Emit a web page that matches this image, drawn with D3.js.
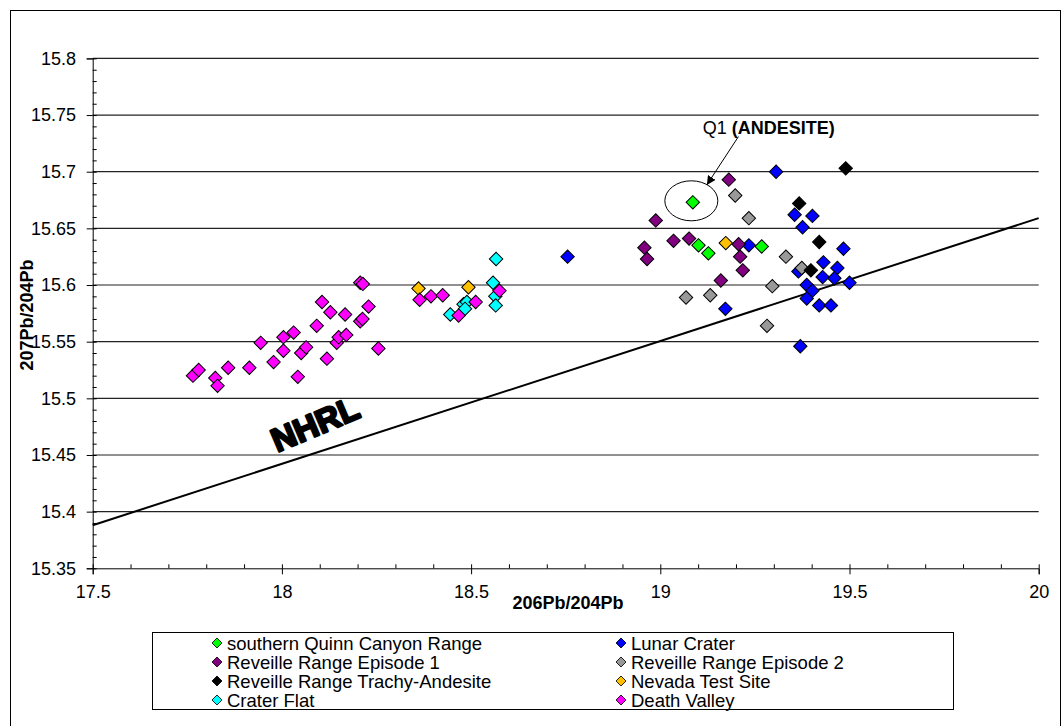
<!DOCTYPE html>
<html>
<head>
<meta charset="utf-8">
<script src="https://cdnjs.cloudflare.com/ajax/libs/d3/7.8.5/d3.min.js"></script>
<style>
  body { margin: 0; background: #fff; }
  text { font-family: "Liberation Sans", Arial, sans-serif; fill: #000; }
</style>
</head>
<body>
<div id="chart"></div>
<script>
// Pb isotope data, [206Pb/204Pb, 207Pb/204Pb]
const quinnCanyon = [[19.086, 15.673], [19.101, 15.635], [19.127, 15.628], [19.268, 15.634]];
const lunarCrater = [
  [18.755, 15.625], [19.234, 15.635], [19.172, 15.579], [19.306, 15.700], [19.355, 15.662],
  [19.402, 15.661], [19.376, 15.651], [19.484, 15.632], [19.431, 15.620], [19.468, 15.615],
  [19.429, 15.607], [19.460, 15.606], [19.500, 15.602], [19.387, 15.600], [19.402, 15.595],
  [19.387, 15.588], [19.420, 15.582], [19.451, 15.582], [19.370, 15.546], [19.365, 15.612]
];
const reveille1 = [
  [19.181, 15.693], [18.988, 15.657], [18.958, 15.633], [18.965, 15.623], [19.035, 15.639],
  [19.076, 15.641], [19.207, 15.636], [19.211, 15.625], [19.218, 15.613], [19.160, 15.604]
];
const reveille2 = [
  [19.198, 15.679], [19.234, 15.659], [19.068, 15.589], [19.132, 15.591],
  [19.296, 15.599], [19.282, 15.564], [19.332, 15.625], [19.374, 15.615]
];
const reveilleTA = [[19.490, 15.703], [19.367, 15.672], [19.420, 15.638], [19.398, 15.613]];
const nevadaTest = [[18.361, 15.597], [18.493, 15.598], [19.173, 15.637]];
const craterFlat = [
  [18.566, 15.623], [18.558, 15.602], [18.445, 15.574], [18.480, 15.583],
  [18.489, 15.585], [18.484, 15.579], [18.564, 15.590], [18.565, 15.582]
];
const deathValley = [
  [17.765, 15.520], [17.780, 15.525], [17.824, 15.518], [17.830, 15.511], [17.858, 15.527],
  [17.914, 15.527], [17.944, 15.549], [17.978, 15.532], [18.004, 15.554], [18.004, 15.542],
  [18.031, 15.558], [18.042, 15.519], [18.051, 15.540], [18.064, 15.545], [18.092, 15.564],
  [18.106, 15.585], [18.119, 15.535], [18.128, 15.576], [18.145, 15.549], [18.150, 15.554],
  [18.167, 15.574], [18.170, 15.556], [18.207, 15.568], [18.213, 15.570], [18.207, 15.602],
  [18.214, 15.601], [18.229, 15.581], [18.255, 15.544], [18.364, 15.587], [18.394, 15.590],
  [18.425, 15.591], [18.467, 15.573], [18.512, 15.585], [18.575, 15.595]
];

const seriesNames = [
  "southern Quinn Canyon Range", "Lunar Crater",
  "Reveille Range Episode 1", "Reveille Range Episode 2",
  "Reveille Range Trachy-Andesite", "Nevada Test Site",
  "Crater Flat", "Death Valley"
];
const seriesData = [quinnCanyon, lunarCrater, reveille1, reveille2, reveilleTA, nevadaTest, craterFlat, deathValley];
const seriesColors = ["#00ff00", "#0000ff", "#800080", "#999999", "#000000", "#ffc000", "#00ffff", "#ff00ff"];

const xTicks = [17.5, 18, 18.5, 19, 19.5, 20];
const xTickLabels = ["17.5", "18", "18.5", "19", "19.5", "20"];
const yTicks = [15.35, 15.4, 15.45, 15.5, 15.55, 15.6, 15.65, 15.7, 15.75, 15.8];
const yTickLabels = ["15.35", "15.4", "15.45", "15.5", "15.55", "15.6", "15.65", "15.7", "15.75", "15.8"];

// Northern Hemisphere Reference Line
const nhrl = [[17.5, 15.388], [20, 15.659]];
// highlighted sample
const q1 = quinnCanyon[0];

const width = 1062, height = 726;
const plotLeft = 92.7, plotRight = 1038.7, plotTop = 58.4, plotBottom = 568.3;

const svg = d3.select("#chart").append("svg")
  .attr("width", width)
  .attr("height", height);

svg.append("rect").attr("width", width).attr("height", height).attr("fill", "#fff");

// outer chart frame
svg.append("rect")
  .attr("x", 10.5).attr("y", 10.5)
  .attr("width", 1050).attr("height", 800)
  .attr("fill", "none").attr("stroke", "#000");

const x = d3.scaleLinear().domain([17.5, 20]).range([plotLeft, plotRight]);
const y = d3.scaleLinear().domain([15.35, 15.8]).range([plotBottom, plotTop]);

// horizontal gridlines
svg.append("g").selectAll("line")
  .data(yTicks.slice(1))
  .enter().append("line")
  .attr("x1", plotLeft).attr("x2", plotRight)
  .attr("y1", d => y(d)).attr("y2", d => y(d))
  .attr("stroke", "#222").attr("stroke-width", 1.2);

// axes: major ticks cross outward, minor ticks inside
const yMinor = d3.range(0, 46).map(i => 15.35 + i * 0.01);
const xMinor = d3.range(0, 26).map(i => 17.5 + i * 0.1);

svg.append("g")
  .attr("transform", `translate(${plotLeft},0)`)
  .call(d3.axisLeft(y).tickValues(yTicks).tickSize(6).tickPadding(10.7)
    .tickFormat((d, i) => yTickLabels[i]));
svg.append("g")
  .attr("transform", `translate(${plotLeft},0)`)
  .call(d3.axisRight(y).tickValues(yMinor).tickSize(4).tickFormat(""))
  .select(".domain").remove();

svg.append("g")
  .attr("transform", `translate(0,${plotBottom})`)
  .call(d3.axisBottom(x).tickValues(xTicks).tickSize(6).tickPadding(10.7)
    .tickFormat((d, i) => xTickLabels[i]));
svg.append("g")
  .attr("transform", `translate(0,${plotBottom})`)
  .call(d3.axisTop(x).tickValues(xMinor).tickSize(4).tickFormat(""))
  .select(".domain").remove();

svg.selectAll(".domain, .tick line").attr("stroke", "#000");
svg.selectAll(".tick text")
  .attr("font-family", "Liberation Sans, Arial, sans-serif")
  .attr("font-size", 18)
  .attr("fill", "#000");

// axis titles
svg.append("text")
  .attr("x", 568).attr("y", 609)
  .attr("text-anchor", "middle")
  .attr("font-size", 18).attr("font-weight", "bold")
  .text("206Pb/204Pb");

svg.append("text")
  .attr("transform", "translate(33,315) rotate(-90)")
  .attr("text-anchor", "middle")
  .attr("font-size", 18).attr("font-weight", "bold")
  .text("207Pb/204Pb");

// NHRL reference line
const line = d3.line().x(d => x(d[0])).y(d => y(d[1]));
svg.append("path")
  .datum(nhrl)
  .attr("d", line)
  .attr("fill", "none")
  .attr("stroke", "#000")
  .attr("stroke-width", 2);

svg.append("text")
  .attr("transform", "translate(315,424) rotate(-23)")
  .attr("text-anchor", "middle")
  .attr("dy", "0.35em")
  .attr("font-family", "Liberation Sans Narrow, Arial Narrow, sans-serif")
  .attr("font-size", 33).attr("font-weight", "bold")
  .attr("stroke", "#000").attr("stroke-width", 2.4)
  .attr("stroke-linejoin", "round")
  .text("NHRL");

// data points
const diamond = d3.symbol().type(d3.symbolSquare).size(90);
seriesData.forEach((data, i) => {
  svg.append("g").selectAll("path")
    .data(data)
    .enter().append("path")
    .attr("d", diamond)
    .attr("transform", d => `translate(${x(d[0])},${y(d[1])}) rotate(45)`)
    .attr("fill", seriesColors[i])
    .attr("stroke", "#000")
    .attr("stroke-width", 1);
});

// Q1 callout
const qx = x(q1[0]), qy = y(q1[1]);
svg.append("ellipse")
  .attr("cx", qx - 1.5).attr("cy", qy - 1.5)
  .attr("rx", 26.5).attr("ry", 20)
  .attr("fill", "none").attr("stroke", "#000");

svg.append("defs").append("marker")
  .attr("id", "arrow")
  .attr("viewBox", "0 0 10 10")
  .attr("refX", 10).attr("refY", 5)
  .attr("markerWidth", 9).attr("markerHeight", 9)
  .attr("markerUnits", "userSpaceOnUse")
  .attr("orient", "auto")
  .append("path").attr("d", "M0,0L10,5L0,10Z").attr("fill", "#000");

svg.append("line")
  .attr("x1", qx + 45.6).attr("y1", qy - 65.7)
  .attr("x2", qx + 14).attr("y2", qy - 17.4)
  .attr("stroke", "#000").attr("stroke-width", 1)
  .attr("marker-end", "url(#arrow)");

const qLabel = svg.append("text")
  .attr("x", qx + 10).attr("y", qy - 68)
  .attr("font-size", 18);
qLabel.append("tspan").text("Q1 ");
qLabel.append("tspan").attr("font-weight", "bold").text("(ANDESITE)");

// legend
const legend = svg.append("g");
legend.append("rect")
  .attr("x", 152.5).attr("y", 632.5)
  .attr("width", 801).attr("height", 77)
  .attr("fill", "#fff").attr("stroke", "#000");

const legendDiamond = d3.symbol().type(d3.symbolSquare).size(50);
const items = legend.selectAll("g.item")
  .data(seriesNames)
  .enter().append("g")
  .attr("class", "item")
  .attr("transform", (d, i) => `translate(${i % 2 === 0 ? 217 : 621},${643 + Math.floor(i / 2) * 19})`);

items.append("path")
  .attr("d", legendDiamond)
  .attr("transform", "rotate(45)")
  .attr("fill", (d, i) => seriesColors[i])
  .attr("stroke", "#000")
  .attr("stroke-width", 0.8);

items.append("text")
  .attr("x", 10)
  .attr("dy", "0.36em")
  .attr("font-size", 18.5)
  .text(d => d);
</script>
</body>
</html>
